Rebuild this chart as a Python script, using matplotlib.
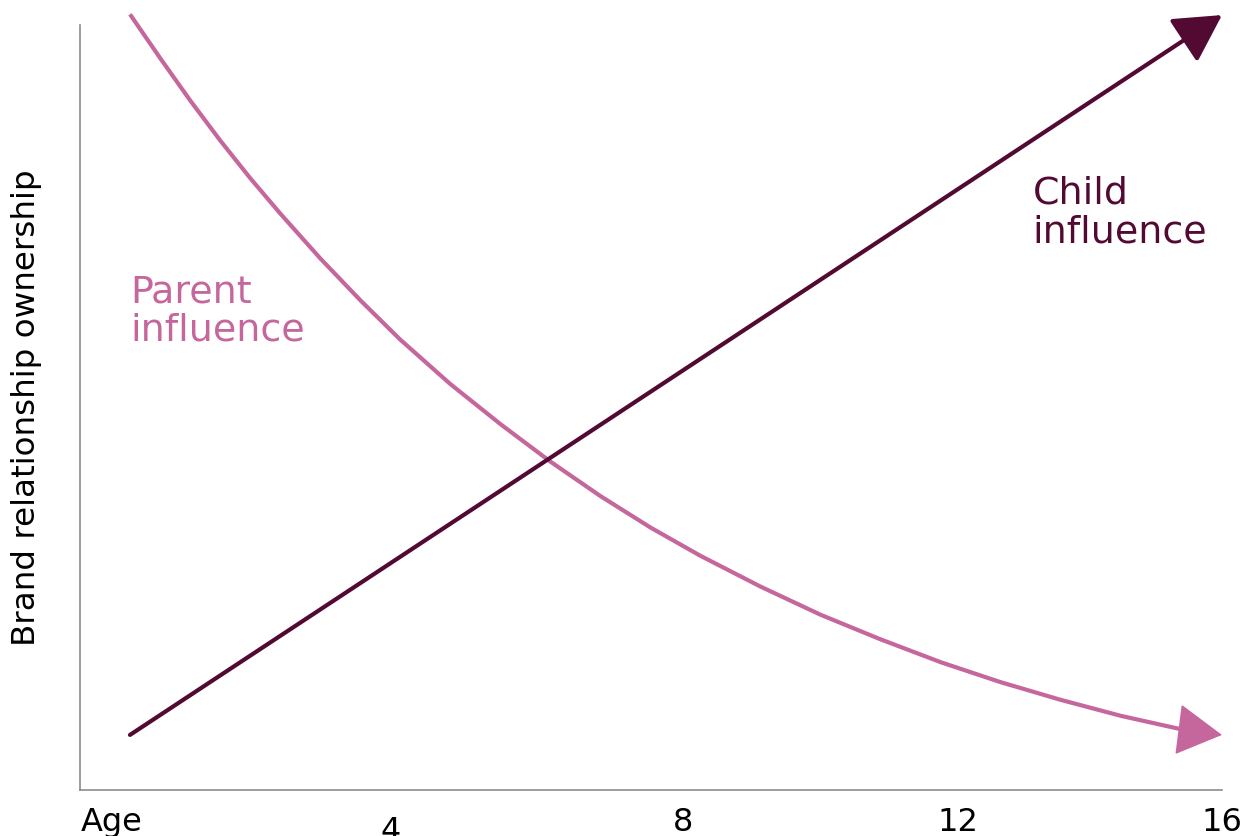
import matplotlib
matplotlib.use("Agg")
import matplotlib.pyplot as plt
from matplotlib.transforms import ScaledTranslation

PARENT_COLOR = "#C5679D"
CHILD_COLOR = "#520A33"
AXIS_COLOR = "#8C8C8C"

# age axis: label positions and texts
tick_pos = [0.0, 4.03, 8.24, 12.19, 16.0]
tick_labels = ["Age", "4", "8", "12", "16"]

# parent influence (falls with age)
parent_x = [0.27, 0.71, 1.14, 1.57, 2.00, 2.44, 3.01, 3.59, 4.16, 4.88,
            5.61, 6.33, 7.05, 7.77, 8.49, 9.35, 10.22, 11.08, 11.95, 12.81,
            13.67, 14.54, 15.48, 16.0]
parent_y = [1.014, 0.956, 0.901, 0.849, 0.800, 0.753, 0.695, 0.640, 0.589, 0.531,
            0.478, 0.429, 0.384, 0.343, 0.306, 0.266, 0.229, 0.197, 0.167, 0.141,
            0.118, 0.097, 0.078, 0.072]

# child influence (rises with age)
child_x = [0.27, 16.0]
child_y = [0.072, 1.013]

fig = plt.figure(figsize=(12.43, 8.36), dpi=100)
ax = fig.add_axes([80 / 1243, 46 / 836, 1142 / 1243, 765 / 836])
ax.set_xlim(-0.45, 16.0)
ax.set_ylim(0, 1)

# parent curve, arrow head on the last segment
ax.plot(parent_x[:-1], parent_y[:-1], color=PARENT_COLOR, lw=3,
        solid_capstyle="butt", solid_joinstyle="round", clip_on=False)
ax.annotate("", xy=(parent_x[-1], parent_y[-1]),
            xytext=(parent_x[-2], parent_y[-2]),
            arrowprops=dict(arrowstyle="-|>,head_length=3.0,head_width=1.7",
                            mutation_scale=10, color=PARENT_COLOR, lw=1,
                            shrinkA=0, shrinkB=0),
            annotation_clip=False)

# child line with arrow head
ax.annotate("", xy=(child_x[-1], child_y[-1]), xytext=(child_x[0], child_y[0]),
            arrowprops=dict(arrowstyle="-|>,head_length=2.9,head_width=1.6",
                            mutation_scale=10, color=CHILD_COLOR, lw=3,
                            shrinkA=0, shrinkB=0),
            annotation_clip=False)

ax.text(0.27, 0.587, "Parent\ninfluence", color=PARENT_COLOR, fontsize=27.4,
        ha="left", va="baseline", linespacing=1.1)
ax.text(13.27, 0.716, "Child\ninfluence", color=CHILD_COLOR, fontsize=27.4,
        ha="left", va="baseline", linespacing=1.1)

for side in ["top", "right"]:
    ax.spines[side].set_visible(False)
for side in ["left", "bottom"]:
    ax.spines[side].set_color(AXIS_COLOR)
    ax.spines[side].set_linewidth(1.2)

ax.set_yticks([])
ax.set_xticks(tick_pos, tick_labels)
ax.tick_params(axis="x", length=0, pad=12, labelsize=23, labelcolor="black")
# the "4" sits a little lower than the other labels
lbl4 = ax.get_xticklabels()[1]
lbl4.set_transform(lbl4.get_transform() + ScaledTranslation(0, -0.09, fig.dpi_scale_trans))

ax.set_ylabel("Brand relationship ownership", fontsize=23.4, color="black")
ax.yaxis.set_label_coords(-0.033, 0.5)

fig.savefig("out.png", dpi=100)
